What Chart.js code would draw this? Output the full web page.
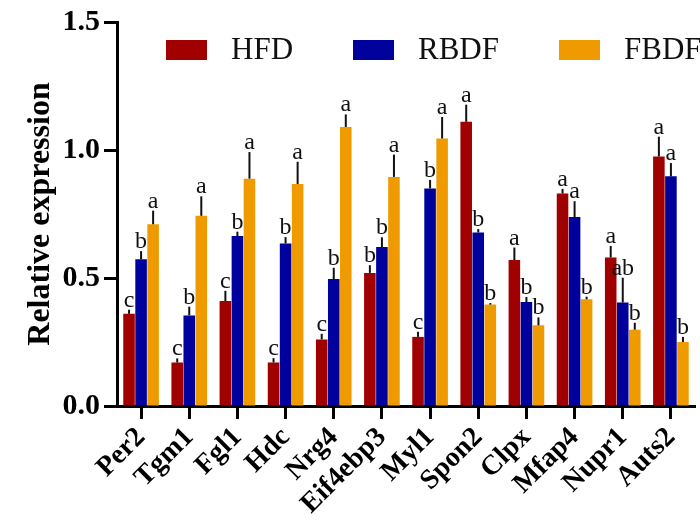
<!DOCTYPE html>
<html>
<head>
<meta charset="utf-8">
<script src="https://cdn.jsdelivr.net/npm/chart.js@4/dist/chart.umd.min.js"></script>
<style>
  body { margin: 0; background: #fff; }
</style>
</head>
<body>
<canvas id="grafico" width="700" height="532"></canvas>
<script>
// genes no eixo x
const genes = ["Per2", "Tgm1", "Fgl1", "Hdc", "Nrg4", "Eif4ebp3", "Myl1", "Spon2", "Clpx", "Mfap4", "Nupr1", "Auts2"];

// médias e desvios
const hfd = [0.36, 0.17, 0.41, 0.17, 0.26, 0.52, 0.27, 1.11, 0.57, 0.83, 0.58, 0.975];
const hfdErr = [0.016, 0.016, 0.04, 0.017, 0.022, 0.03, 0.02, 0.067, 0.049, 0.018, 0.045, 0.077];
const rbdf = [0.573, 0.354, 0.664, 0.635, 0.496, 0.621, 0.85, 0.678, 0.406, 0.738, 0.404, 0.897];
const rbdfErr = [0.032, 0.034, 0.017, 0.025, 0.044, 0.038, 0.033, 0.013, 0.02, 0.062, 0.097, 0.052];
const fbdf = [0.71, 0.743, 0.888, 0.867, 1.09, 0.895, 1.045, 0.396, 0.315, 0.417, 0.298, 0.25];
const fbdfErr = [0.053, 0.076, 0.104, 0.087, 0.049, 0.087, 0.084, 0.006, 0.031, 0.01, 0.027, 0.02];

// letras de significância
const hfdLetras = ["c", "c", "c", "c", "c", "b", "c", "a", "a", "a", "a", "a"];
const rbdfLetras = ["b", "b", "b", "b", "b", "b", "b", "b", "b", "a", "ab", "a"];
const fbdfLetras = ["a", "a", "a", "a", "a", "a", "a", "b", "b", "b", "b", "b"];

const yTicks = [0, 0.5, 1.0, 1.5];

const serif = "'Liberation Serif', 'Times New Roman', serif";

// barras de erro (só para cima) + letras
const pluginErro = {
  id: "erro",
  afterDatasetsDraw(chart) {
    const ctx = chart.ctx;
    const y = chart.scales.y;
    chart.data.datasets.forEach((ds, i) => {
      const meta = chart.getDatasetMeta(i);
      meta.data.forEach((bar, j) => {
        const topo = y.getPixelForValue(ds.data[j] + ds.erro[j]);
        ctx.save();
        ctx.strokeStyle = "#111";
        ctx.lineWidth = 2;
        ctx.beginPath();
        ctx.moveTo(bar.x, bar.y);
        ctx.lineTo(bar.x, topo);
        ctx.stroke();
        ctx.fillStyle = "#111";
        ctx.font = "24px " + serif;
        ctx.textAlign = "center";
        ctx.textBaseline = "alphabetic";
        ctx.fillText(ds.letras[j], bar.x, topo - 3);
        ctx.restore();
      });
    });
  }
};

// legenda desenhada dentro da área do gráfico
const pluginLegenda = {
  id: "legendaInterna",
  afterDraw(chart) {
    const ctx = chart.ctx;
    let x = 166;
    const yQ = 40;
    ctx.save();
    ctx.font = "31px " + serif;
    ctx.textBaseline = "middle";
    chart.data.datasets.forEach((ds) => {
      ctx.fillStyle = ds.backgroundColor;
      ctx.fillRect(x, yQ, 41, 20);
      x += 41 + 24;
      ctx.fillStyle = "#111";
      ctx.fillText(ds.label, x, yQ + 11);
      x += ctx.measureText(ds.label).width + 60;
    });
    ctx.restore();
  }
};

const grafico = document.getElementById("grafico");

new Chart(grafico, {
  type: "bar",
  data: {
    labels: genes,
    datasets: [
      { label: "HFD", data: hfd, erro: hfdErr, letras: hfdLetras, backgroundColor: "#A00000" },
      { label: "RBDF", data: rbdf, erro: rbdfErr, letras: rbdfLetras, backgroundColor: "#00009C" },
      { label: "FBDF", data: fbdf, erro: fbdfErr, letras: fbdfLetras, backgroundColor: "#EF9B00" }
    ]
  },
  options: {
    responsive: false,
    animation: false,
    layout: { padding: { left: 14, right: 5, top: 22, bottom: 0 } },
    datasets: { bar: { categoryPercentage: 0.75, barPercentage: 0.96 } },
    plugins: { legend: { display: false }, tooltip: { enabled: false } },
    scales: {
      x: {
        grid: { display: true, drawOnChartArea: false, offset: false, tickLength: 13, tickColor: "#000", tickWidth: 3 },
        border: { display: true, color: "#000", width: 3 },
        ticks: {
          color: "#000",
          autoSkip: false,
          font: { family: serif, size: 28, weight: "bold" },
          minRotation: 45,
          maxRotation: 45,
          padding: 2
        },
        afterFit(scale) { scale.height = 126; }
      },
      y: {
        min: 0,
        max: 1.5,
        afterBuildTicks(scale) { scale.ticks = yTicks.map(v => ({ value: v })); },
        grid: { display: true, drawOnChartArea: false, tickLength: 13, tickColor: "#000", tickWidth: 3 },
        border: { display: true, color: "#000", width: 3 },
        ticks: {
          color: "#000",
          padding: 4,
          font: { family: serif, size: 30, weight: "bold" },
          callback: (v) => Number(v).toFixed(1)
        },
        title: {
          display: true,
          text: "Relative expression",
          color: "#000",
          padding: { top: 8, bottom: 0 },
          font: { family: serif, size: 32, weight: "bold" }
        },
        afterFit(scale) { scale.width = 117 - 14; }
      }
    }
  },
  plugins: [pluginErro, pluginLegenda]
});
</script>
</body>
</html>
